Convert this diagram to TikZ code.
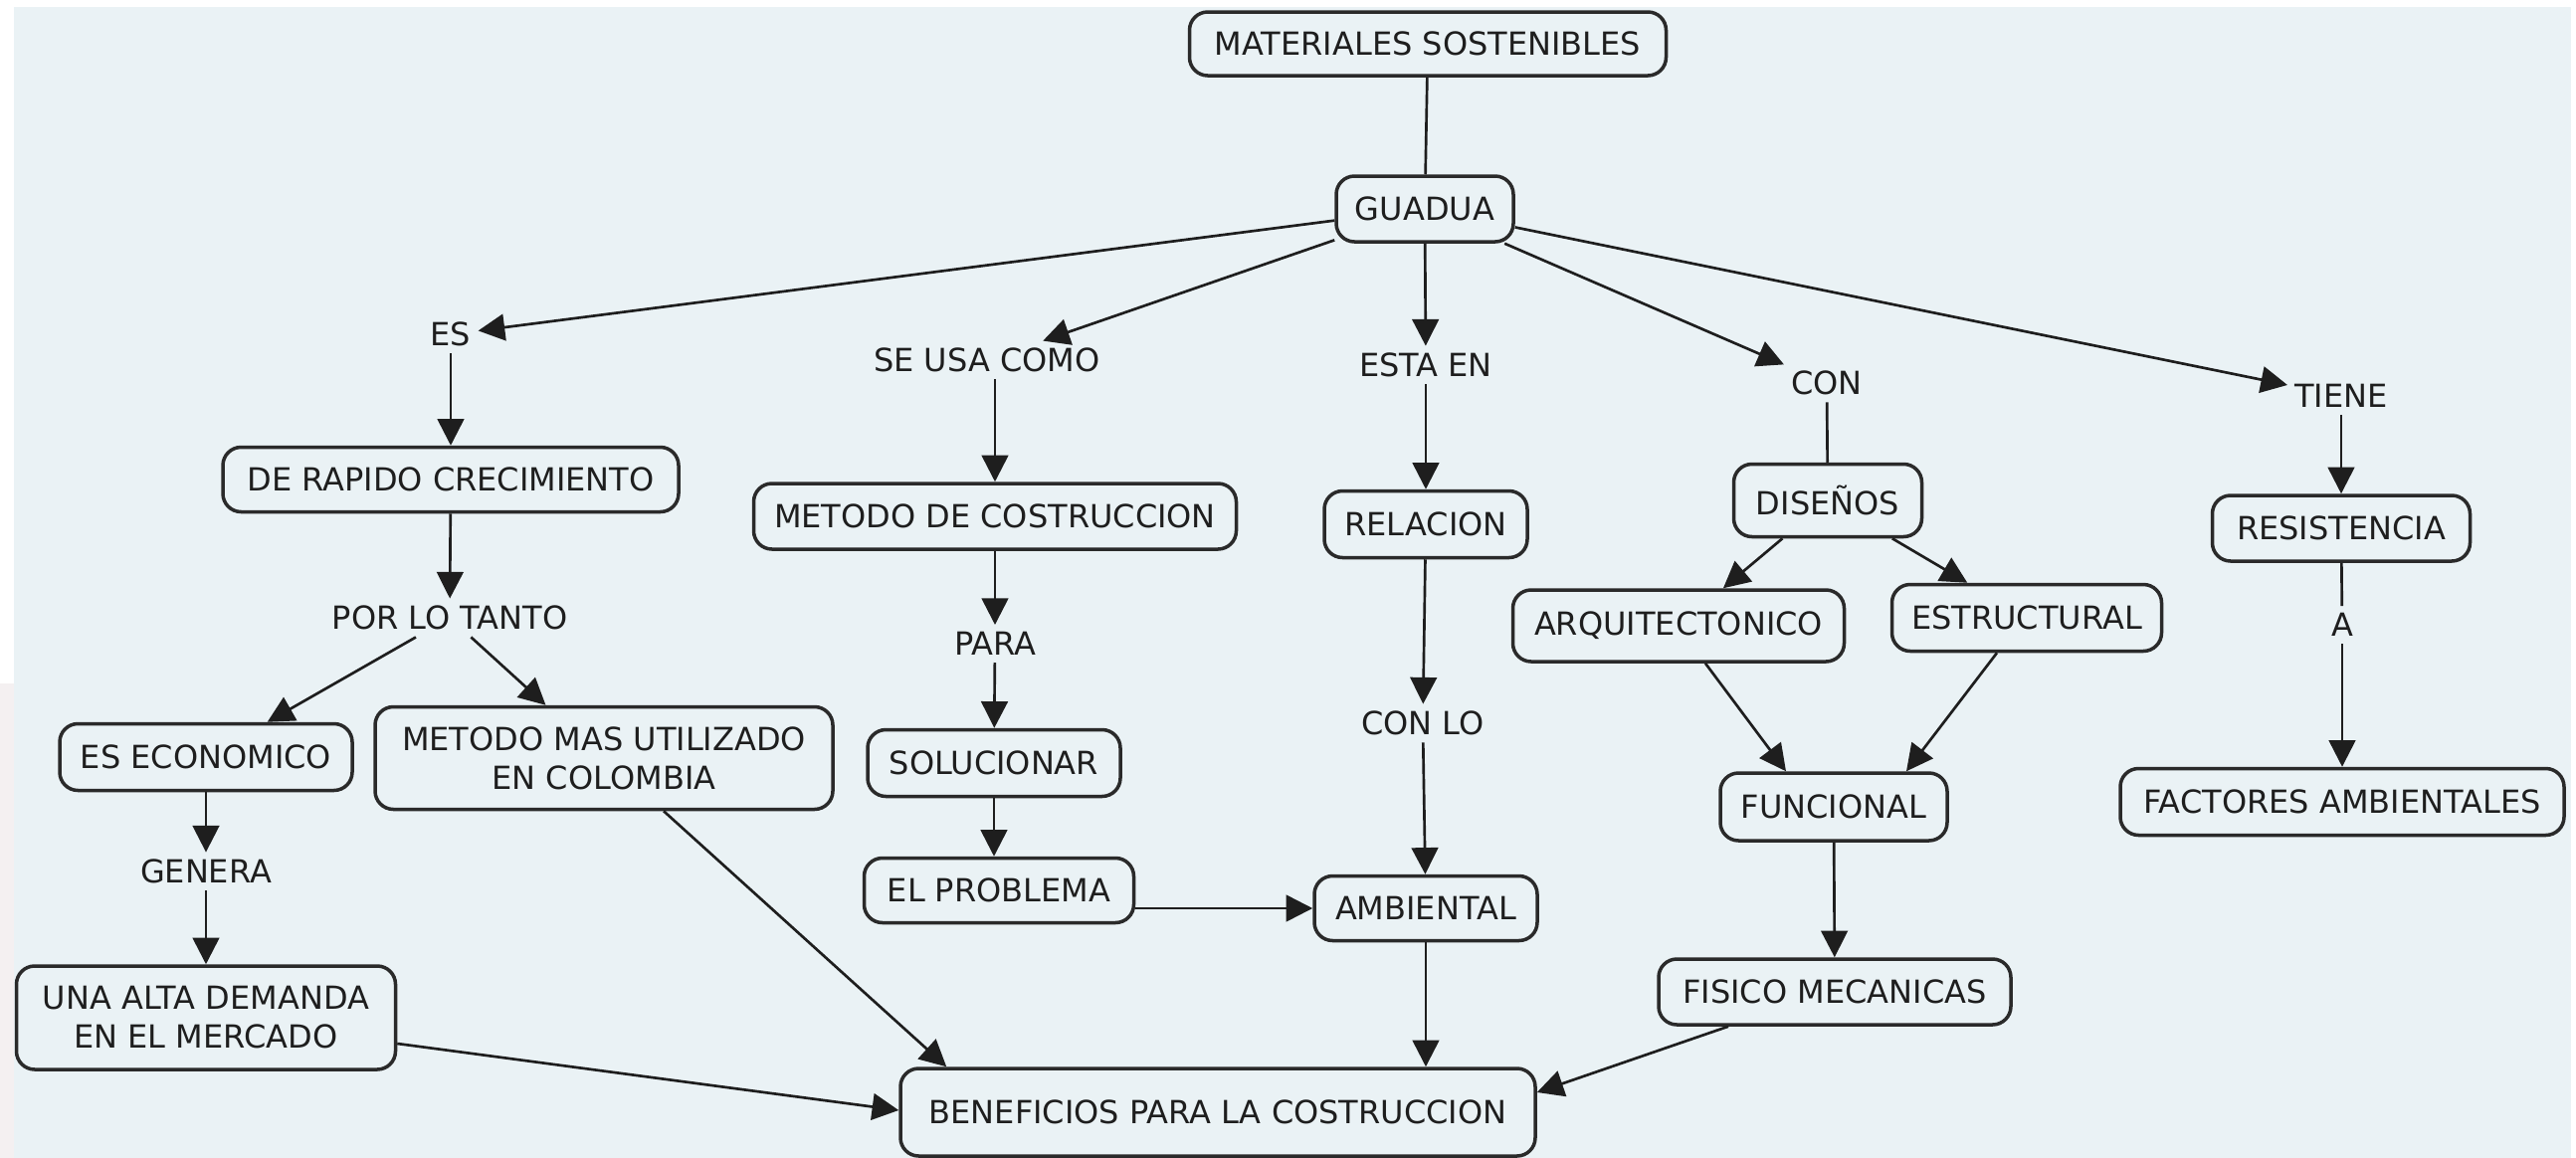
\documentclass[tikz,border=0pt]{standalone}
\usepackage{fontspec}
\setmainfont{DejaVu Sans}
\usetikzlibrary{arrows.meta,calc}
\definecolor{bg}{HTML}{EAF2F5}
\definecolor{ink}{HTML}{1E1E1E}
\definecolor{edge}{HTML}{2A2A2A}
\definecolor{strip}{HTML}{F4F0F1}
\begin{document}
\begin{tikzpicture}[x=0.3pt,y=-0.3pt,
  every node/.style={font=\fontsize{9.6}{11.7}\selectfont, text=ink},
  box/.style={draw=edge, line width=1.05pt, rounded corners=5.5pt, align=center, inner sep=0pt},
  sz/.style 2 args={minimum width=#1*0.3pt, minimum height=#2*0.3pt},
  lbl/.style={inner sep=2pt},
  con/.style={draw=ink, line width=0.8pt},
  arr/.style={con, -{Triangle[length=8pt,width=8pt]}},
]
\useasboundingbox (0,0) rectangle (2589,1164);
\fill[white] (0,0) rectangle (2589,1164);
\fill[strip] (0,687) rectangle (14,1164);
\fill[bg] (14,7) rectangle (2584,1164);

% concepts
\node[box, sz={479}{64}] (mat) at (1435,44) {MATERIALES SOSTENIBLES};
\node[box, sz={178}{66}] (guadua) at (1432,210) {GUADUA};
\node[box, sz={458}{65}] (rapido) at (453,482) {DE RAPIDO CRECIMIENTO};
\node[box, sz={485}{66}] (metodo) at (1000,519) {METODO DE COSTRUCCION};
\node[box, sz={204}{67}] (relacion) at (1433,527) {RELACION};
\node[box, sz={189}{73}] (disenos) at (1837,503) {DISEÑOS};
\node[box, sz={259}{66}] (resistencia) at (2353,531) {RESISTENCIA};
\node[box, sz={333}{72}] (arq) at (1687,629) {ARQUITECTONICO};
\node[box, sz={271}{67}] (estr) at (2037,621) {ESTRUCTURAL};
\node[box, sz={446}{67}] (factores) at (2354,806) {FACTORES AMBIENTALES};
\node[box, sz={228}{68}] (funcional) at (1843,811) {FUNCIONAL};
\node[box, sz={224}{65}] (ambiental) at (1433,913) {AMBIENTAL};
\node[box, sz={354}{66}] (fisico) at (1844,997) {FISICO MECANICAS};
\node[box, sz={638}{88}] (beneficios) at (1224,1118) {BENEFICIOS PARA LA COSTRUCCION};
\node[box, sz={294}{67}] (economico) at (207,761) {ES ECONOMICO};
\node[box, sz={460}{103}] (metodomas) at (607,762) {METODO MAS UTILIZADO\\EN COLOMBIA};
\node[box, sz={381}{104}] (una) at (207,1023) {UNA ALTA DEMANDA\\EN EL MERCADO};
\node[box, sz={254}{67}] (solucionar) at (999,767) {SOLUCIONAR};
\node[box, sz={271}{65}] (problema) at (1004,895) {EL PROBLEMA};

% linking phrases
\node[lbl] (es) at (453,336) {ES};
\node[lbl] (seusa) at (992,362) {SE USA COMO};
\node[lbl] (estaen) at (1433,367) {ESTA EN};
\node[lbl] (con) at (1836,385) {CON};
\node[lbl] (tiene) at (2353,398) {TIENE};
\node[lbl] (portanto) at (452,621) {POR LO TANTO};
\node[lbl] (genera) at (207,876) {GENERA};
\node[lbl] (para) at (1000,647) {PARA};
\node[lbl] (conlo) at (1430,727) {CON LO};
\node[lbl] (a) at (2354,628) {A};

% connectors
\draw[con] (mat) -- (guadua);
\draw[arr] (guadua) -- (es);
\draw[arr] (es) -- (rapido);
\draw[arr] (guadua) -- (seusa);
\draw[arr] (metodo |- seusa.south) -- (metodo.north);
\draw[arr] (guadua) -- (estaen);
\draw[arr] (estaen) -- (relacion);
\draw[arr] (guadua) -- (con);
\draw[con] (con) -- (disenos);
\draw[arr] (guadua) -- (tiene);
\draw[arr] (tiene) -- (resistencia);
\draw[arr] (rapido) -- (portanto);
\draw[arr] (portanto) -- (economico);
\draw[arr] (portanto) -- (metodomas);
\draw[arr] (economico) -- (genera);
\draw[arr] (genera) -- (una);
\draw[arr] (metodo) -- (para);
\draw[arr] (para) -- (solucionar);
\draw[arr] (solucionar.south) -- (solucionar.south |- problema.north);
\draw[arr] (problema.east |- ambiental.west) -- (ambiental.west);
\draw[arr] (relacion) -- (conlo);
\draw[arr] (conlo) -- (ambiental);
\draw[arr] (disenos) -- (arq);
\draw[arr] (disenos) -- (estr);
\draw[arr] ($(arq.south)+(27,0)$) -- ($(funcional.north)+(-48,0)$);
\draw[arr] ($(estr.south)+(-30,0)$) -- ($(funcional.north)+(73,0)$);
\draw[arr] (funcional) -- (fisico);
\draw[con] (resistencia) -- (a);
\draw[arr] (a) -- (factores);
\draw[arr] ($(una.east)+(0,26)$) -- ($(beneficios.west)+(0,-2)$);
\draw[arr] ($(metodomas.south)+(60,0)$) -- ($(beneficios.north west)+(48,0)$);
\draw[arr] (ambiental.south) -- (ambiental.south |- beneficios.north);
\draw[arr] ($(fisico.south)+(-107,0)$) -- ($(beneficios.east)+(0,-20)$);
\end{tikzpicture}
\end{document}
